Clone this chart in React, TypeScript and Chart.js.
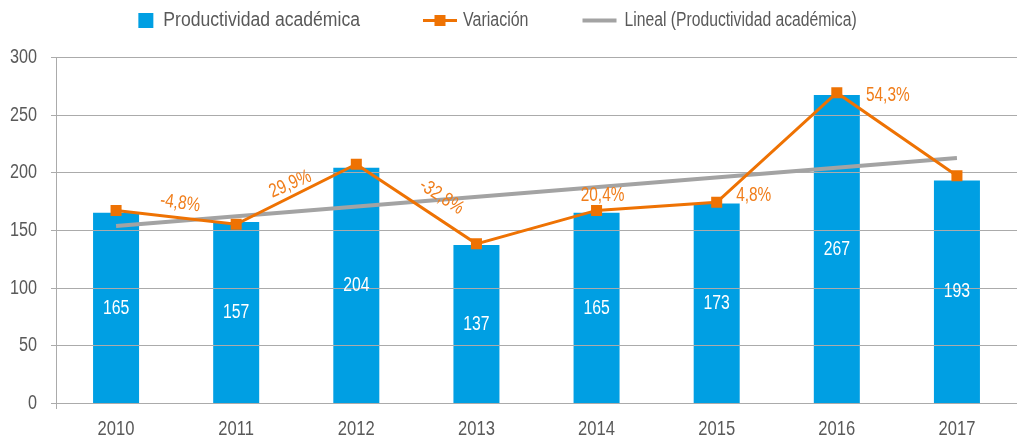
import React, { useEffect, useRef } from 'react';
import { Chart, registerables } from 'chart.js';

Chart.register(...registerables);

// ---- data ----
const years = ['2010', '2011', '2012', '2013', '2014', '2015', '2016', '2017'];
const productividad = [165, 157, 204, 137, 165, 173, 267, 193];
const variacionPuntos = [167, 155, 207, 138, 167, 174, 269, 197];
const variacionEtiquetas = ['', '-4,8%', '29,9%', '-32,8%', '20,4%', '4,8%', '54,3%', ''];
const tendencia: (number | null)[] = [153.5, null, null, null, null, null, null, 212.5];
const yMin = 0;
const yMax = 300;
const yStep = 50;

// ---- styles / placement ----
const FONT = '"Liberation Sans", Arial, sans-serif';
const SQUEEZE = 0.79; // condensed look of the original typeface
const TEXT = '#595959';
const GRID = '#ABABAB';
const BLUE = '#009FE3';
const ORANGE = '#EE7203';
const ORANGE_TEXT = '#F07D1A';
const GRAY = '#A3A3A3';
const labelPlacement: ({ dx: number; dy: number; rot: number } | null)[] = [
  null,
  { dx: -56, dy: -21, rot: 8 },
  { dx: -66, dy: 20, rot: -23 },
  { dx: -35, dy: -47, rot: 33 },
  { dx: 6, dy: -15, rot: 0 },
  { dx: 37, dy: -7, rot: 0 },
  { dx: 51, dy: 3, rot: 0 },
  null,
];

function drawText(
  ctx: CanvasRenderingContext2D,
  text: string,
  x: number,
  y: number,
  size: number,
  color: string,
  align: CanvasTextAlign,
  sx = SQUEEZE,
  rot = 0
) {
  ctx.save();
  ctx.translate(x, y);
  if (rot) ctx.rotate((rot * Math.PI) / 180);
  ctx.scale(sx, 1);
  ctx.font = `${size}px ${FONT}`;
  ctx.fillStyle = color;
  ctx.textAlign = align;
  ctx.textBaseline = 'middle';
  ctx.fillText(text, 0, 0);
  ctx.restore();
}

function textWidth(ctx: CanvasRenderingContext2D, text: string, size: number, sx: number) {
  ctx.save();
  ctx.font = `${size}px ${FONT}`;
  const w = ctx.measureText(text).width * sx;
  ctx.restore();
  return w;
}

const customPlugin = {
  id: 'customDraw',
  afterDatasetDraw(chart: any, args: any) {
    if (args.index !== 0) return;
    const { ctx, chartArea } = chart;
    const yScale = chart.scales.y;
    const xScale = chart.scales.x;
    ctx.save();
    ctx.strokeStyle = GRID;
    ctx.lineWidth = 1;
    for (let v = yMin; v <= yMax; v += yStep) {
      const y = Math.round(yScale.getPixelForValue(v)) + 0.5;
      ctx.beginPath();
      ctx.moveTo(chartArea.left - 5, y);
      ctx.lineTo(chartArea.right, y);
      ctx.stroke();
      drawText(ctx, String(v), chartArea.left - 19, y, 20.5, TEXT, 'right');
    }
    ctx.beginPath();
    const ax = Math.round(chartArea.left) + 0.5;
    ctx.moveTo(ax, chartArea.bottom);
    ctx.lineTo(ax, chartArea.bottom + 6);
    ctx.stroke();
    years.forEach((yr, i) => {
      drawText(ctx, yr, xScale.getPixelForValue(i), chartArea.bottom + 26, 21, TEXT, 'center');
    });
    const meta = chart.getDatasetMeta(0);
    meta.data.forEach((el: any, i: number) => {
      const { x, y, base } = el.getProps(['x', 'y', 'base'], true);
      drawText(ctx, String(productividad[i]), x, (y + base) / 2, 20.5, '#FFFFFF', 'center', 0.77);
    });
    ctx.restore();
  },
  afterDraw(chart: any) {
    const { ctx } = chart;
    ctx.save();
    const meta = chart.getDatasetMeta(2);
    meta.data.forEach((el: any, i: number) => {
      const p = labelPlacement[i];
      const t = variacionEtiquetas[i];
      if (!p || !t) return;
      drawText(ctx, t, el.x + p.dx, el.y + p.dy, 19.5, ORANGE_TEXT, 'center', 0.79, p.rot);
    });

    const legendSize = 20;
    const items = [
      { kind: 'box', text: chart.data.datasets[0].label, sym: 15, gap: 10, sx: 0.88, after: 63 },
      { kind: 'marker', text: chart.data.datasets[2].label, sym: 34, gap: 6, sx: 0.8, after: 54 },
      { kind: 'line', text: chart.data.datasets[1].label, sym: 34, gap: 8, sx: 0.785, after: 0 },
    ];
    const widths = items.map((it) => it.sym + it.gap + textWidth(ctx, it.text, legendSize, it.sx));
    const total = widths.reduce((a, b) => a + b, 0) + items.reduce((a, it) => a + it.after, 0);
    let x = chart.width / 2 - 11 - total / 2;
    const cy = 20.5;
    items.forEach((it, i) => {
      if (it.kind === 'box') {
        ctx.fillStyle = BLUE;
        ctx.fillRect(x, cy - 7.5, 15, 15);
      } else if (it.kind === 'marker') {
        ctx.strokeStyle = ORANGE;
        ctx.lineWidth = 3;
        ctx.beginPath();
        ctx.moveTo(x, cy);
        ctx.lineTo(x + 34, cy);
        ctx.stroke();
        ctx.fillStyle = ORANGE;
        ctx.fillRect(x + 17 - 5.5, cy - 5.5, 11, 11);
      } else {
        ctx.strokeStyle = GRAY;
        ctx.lineWidth = 4;
        ctx.beginPath();
        ctx.moveTo(x, cy);
        ctx.lineTo(x + 34, cy);
        ctx.stroke();
      }
      drawText(ctx, it.text, x + it.sym + it.gap, cy, legendSize, TEXT, 'left', it.sx);
      x += widths[i] + it.after;
    });
    ctx.restore();
  },
};

export default function App() {
  const ref = useRef<HTMLCanvasElement | null>(null);
  useEffect(() => {
    if (!ref.current) return;
    const chart = new Chart(ref.current, {
      type: 'bar',
      data: {
        labels: years,
        datasets: [
          {
            type: 'bar',
            label: 'Productividad académica',
            data: productividad,
            backgroundColor: BLUE,
            borderWidth: 0,
            categoryPercentage: 1,
            barPercentage: 0.383,
            order: 3,
          },
          {
            type: 'line',
            label: 'Lineal (Productividad académica)',
            data: tendencia,
            borderColor: GRAY,
            borderWidth: 4,
            pointRadius: 0,
            spanGaps: true,
            fill: false,
            order: 2,
          } as any,
          {
            type: 'line',
            label: 'Variación',
            data: variacionPuntos,
            borderColor: ORANGE,
            backgroundColor: ORANGE,
            borderWidth: 3,
            pointStyle: 'rect',
            pointRadius: 7.8,
            pointBorderWidth: 0,
            pointBackgroundColor: ORANGE,
            tension: 0,
            fill: false,
            order: 1,
          } as any,
        ],
      },
      options: {
        animation: false,
        responsive: false,
        maintainAspectRatio: false,
        layout: { autoPadding: false, padding: { top: 57, right: 0, left: 0, bottom: 0 } },
        plugins: {
          legend: { display: false },
          tooltip: { enabled: false },
        },
        scales: {
          x: {
            grid: { display: false, drawTicks: false },
            border: { display: true, color: GRID, width: 1 },
            ticks: { display: false },
            afterFit: (s: any) => {
              s.height = 35;
              s.paddingLeft = 0;
              s.paddingRight = 0;
            },
          },
          y: {
            min: yMin,
            max: yMax,
            grid: { display: false, drawTicks: false },
            border: { display: true, color: GRID, width: 1 },
            ticks: { stepSize: yStep, display: false },
            afterFit: (s: any) => {
              s.width = 56;
              s.paddingTop = 0;
              s.paddingBottom = 0;
            },
          },
        },
      },
      plugins: [customPlugin],
    });
    return () => chart.destroy();
  }, []);
  return (
    <div style={{ position: 'absolute', left: 0, top: 0, width: 1017, height: 438 }}>
      <canvas ref={ref} width={1017} height={438} style={{ display: 'block' }} />
    </div>
  );
}
